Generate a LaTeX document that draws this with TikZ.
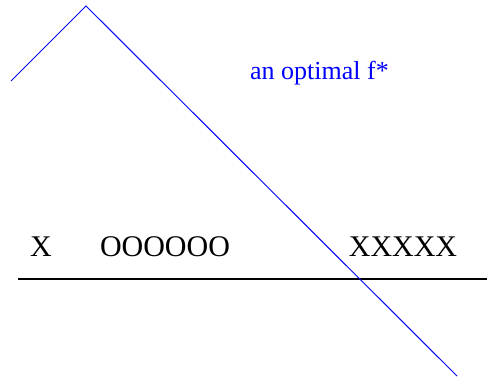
\documentclass[tikz,border=0pt]{standalone}
\usepackage{fontspec}
\setmainfont{Liberation Serif}
\usepackage{tikz}
\usetikzlibrary{calc}

\begin{document}
\begin{tikzpicture}[x=1pt,y=-1pt]
\useasboundingbox (0,0) rectangle (487,379);
\tikzset{marktext/.style={anchor=base,inner sep=0pt,font=\fontsize{30}{30}\selectfont}}
\coordinate (f_start) at (11,81);
\coordinate (f_peak) at (86,6);
\coordinate (f_end) at (457,376);
\coordinate (axis_left) at (18,279);
\coordinate (axis_right) at (487,279);
\node[name=neg_1, marktext] at (41,257) {X};
\node[name=pos, marktext] at (165,257) {OOOOOO};
\node[name=neg_2, marktext] at (403,257) {XXXXX};
\node[name=f_label, marktext, anchor=base west, text=blue, font=\fontsize{26}{26}\selectfont] at (250,80) {an optimal f*};

\draw[line width=2pt](axis_left) -- (axis_right);
\draw[blue, line width=1pt](f_start) -- (f_peak) -- (f_end);
\end{tikzpicture}
\end{document}
